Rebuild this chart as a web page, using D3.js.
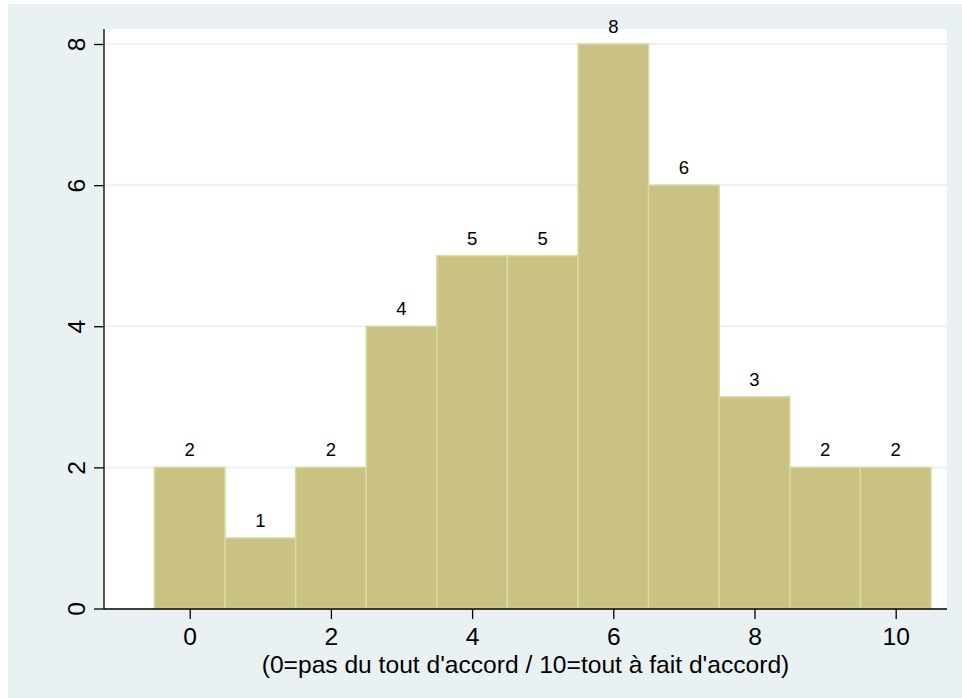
<!DOCTYPE html>
<html>
<head>
<meta charset="utf-8">
<script src="https://cdn.jsdelivr.net/npm/d3@7"></script>
<style>
  body { margin: 0; background: #fff; }
  text { font-family: "Liberation Sans", Arial, sans-serif; fill: #000; }
</style>
</head>
<body>
<div class="chart"></div>
<script>
// histogram data: score 0..10 and frequency
const scores = [0, 1, 2, 3, 4, 5, 6, 7, 8, 9, 10];
const counts = [2, 1, 2, 4, 5, 5, 8, 6, 3, 2, 2];
const xTicks = [0, 2, 4, 6, 8, 10];
const yTicks = [0, 2, 4, 6, 8];
const xTitle = "(0=pas du tout d'accord / 10=tout à fait d'accord)";

const width = 962;
const height = 698;
const plot = { left: 104, top: 29, right: 947, bottom: 609 };
const axisFont = "24.6px";

const svg = d3.select(".chart")
    .append("svg")
    .attr("width", width)
    .attr("height", height);

// outer background + plot region
svg.append("rect")
    .attr("x", 8).attr("y", 4)
    .attr("width", width - 8).attr("height", height - 4)
    .attr("fill", "#e9f1f3");

svg.append("rect")
    .attr("x", plot.left).attr("y", plot.top)
    .attr("width", plot.right - plot.left).attr("height", plot.bottom - plot.top)
    .attr("fill", "#fff");

const xScale = d3.scaleLinear().domain([0, 10]).range([189.7, 895.7]);
const yScale = d3.scaleLinear().domain([0, 8]).range([608.5, 44]);

// grid lines
svg.append("g")
    .selectAll("line")
    .data(yTicks.filter(d => d > 0))
    .join("line")
    .attr("x1", plot.left).attr("x2", plot.right)
    .attr("y1", d => yScale(d)).attr("y2", d => yScale(d))
    .attr("stroke", "#e9f1f3")
    .attr("stroke-width", 2);

// bars
svg.append("g")
    .selectAll("rect")
    .data(scores)
    .join("rect")
    .attr("x", (d) => xScale(d - 0.5))
    .attr("y", (d, i) => yScale(counts[i]))
    .attr("width", xScale(1) - xScale(0))
    .attr("height", (d, i) => yScale(0) - yScale(counts[i]))
    .attr("fill", "#c9c283")
    .attr("stroke", "#dcd8a8")
    .attr("stroke-width", 1.5);

// bar labels
svg.append("g")
    .selectAll("text")
    .data(scores)
    .join("text")
    .attr("x", (d) => xScale(d))
    .attr("y", (d, i) => yScale(counts[i]) - 11)
    .attr("text-anchor", "middle")
    .style("font-size", "18.5px")
    .text((d, i) => counts[i]);

// x axis
const xAxis = d3.axisBottom(xScale).tickValues(xTicks).tickSize(10).tickPadding(9);
const xAxisGroup = svg.append("g")
    .attr("transform", `translate(0,${plot.bottom})`)
    .call(xAxis);
xAxisGroup.select(".domain").remove();
xAxisGroup.append("line")
    .attr("x1", plot.left).attr("x2", plot.right)
    .attr("stroke", "#000").attr("stroke-width", 1.3);
xAxisGroup.selectAll(".tick line").attr("stroke", "#000").attr("stroke-width", 1.3);
xAxisGroup.selectAll(".tick text")
    .style("font-size", axisFont)
    .style("font-family", "Liberation Sans, Arial, sans-serif")
    .attr("fill", "#000");

// y axis
const yAxis = d3.axisLeft(yScale).tickValues(yTicks).tickSize(10).tickFormat(d3.format("d"));
const yAxisGroup = svg.append("g")
    .attr("transform", `translate(${plot.left},0)`)
    .call(yAxis);
yAxisGroup.select(".domain").remove();
yAxisGroup.append("line")
    .attr("y1", plot.top).attr("y2", plot.bottom)
    .attr("stroke", "#000").attr("stroke-width", 1.3);
yAxisGroup.selectAll(".tick line").attr("stroke", "#000").attr("stroke-width", 1.3);
yAxisGroup.selectAll(".tick text")
    .attr("x", null).attr("dy", null)
    .attr("transform", "translate(-19.5,0) rotate(-90)")
    .attr("text-anchor", "middle")
    .style("font-size", axisFont)
    .style("font-family", "Liberation Sans, Arial, sans-serif")
    .attr("fill", "#000");

// x axis title
svg.append("text")
    .attr("x", (plot.left + plot.right) / 2)
    .attr("y", 673)
    .attr("text-anchor", "middle")
    .style("font-size", axisFont)
    .text(xTitle);
</script>
</body>
</html>
